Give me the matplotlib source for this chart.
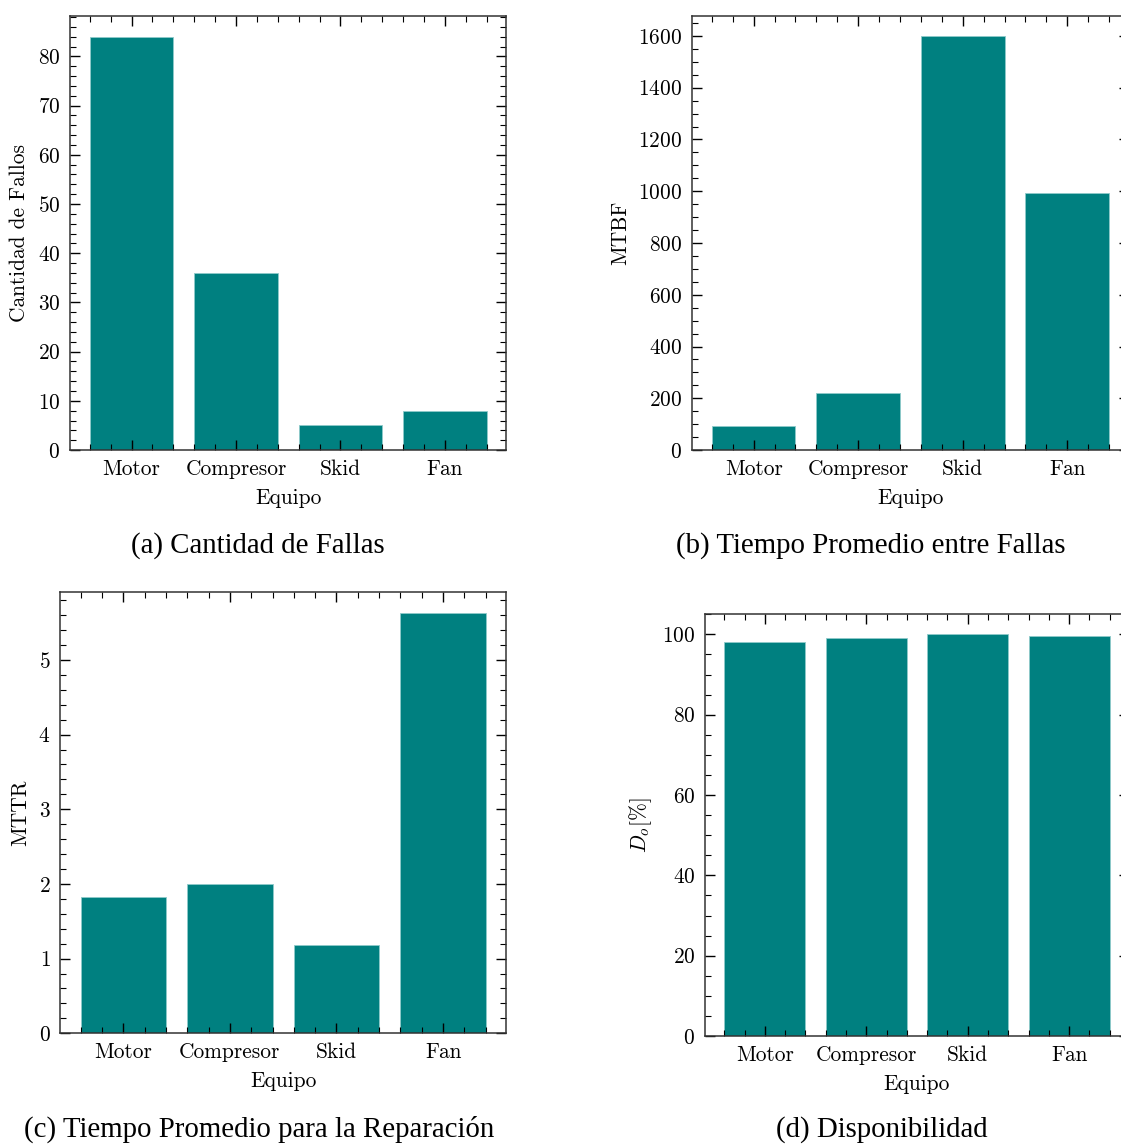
import matplotlib
matplotlib.use("Agg")
import matplotlib.pyplot as plt
from matplotlib.ticker import AutoMinorLocator, MultipleLocator

equipos = ["Motor", "Compresor", "Skid", "Fan"]
fallos = [84, 36, 5, 8]
mtbf = [93, 219, 1598, 994]
mttr = [1.82, 2.0, 1.18, 5.625]
disponibilidad = [98.15, 99.1, 100.0, 99.55]

plt.rcParams.update({
    "font.family": "cmr10",
    "mathtext.fontset": "cm",
    "axes.formatter.use_mathtext": True,
    "font.size": 15.4,
    "axes.linewidth": 1.1,
    "axes.edgecolor": "#333333",
    "xtick.direction": "in",
    "ytick.direction": "in",
    "xtick.top": True,
    "ytick.right": True,
    "xtick.major.size": 7,
    "ytick.major.size": 7,
    "xtick.minor.size": 4,
    "ytick.minor.size": 4,
    "xtick.major.width": 1.0,
    "ytick.major.width": 1.0,
    "xtick.minor.width": 0.8,
    "ytick.minor.width": 0.8,
    "xtick.major.pad": 6.5,
    "ytick.major.pad": 7,
})

fig = plt.figure(figsize=(11.21, 11.44), dpi=100)

# (axes rect, values, y label, caption, caption x, caption baseline y)
paneles = [
    ([0.0624, 0.6066, 0.3894, 0.3794], fallos, "Cantidad de Fallos", "(a) Cantidad de Fallas", 0.230, 0.5165),
    ([0.6173, 0.6066, 0.3898, 0.3796], mtbf, "MTBF", "(b) Tiempo Promedio entre Fallas", 0.777, 0.5165),
    ([0.0538, 0.0968, 0.3976, 0.3855], mttr, "MTTR", "(c) Tiempo Promedio para la Reparación", 0.231, 0.0065),
    ([0.6289, 0.0944, 0.3782, 0.3686], disponibilidad, r"$D_o[\%]$", "(d) Disponibilidad", 0.787, 0.0065),
]

for pos, valores, ylabel, caption, cx, cy in paneles:
    ax = fig.add_axes(pos)
    ax.bar(equipos, valores, width=0.8, color="#008080", edgecolor="#8fcaca", linewidth=0.6)
    ax.set_xlabel("Equipo", labelpad=7)
    ax.set_ylabel(ylabel, labelpad=6)
    ax.xaxis.set_minor_locator(MultipleLocator(0.2))
    ax.yaxis.set_minor_locator(AutoMinorLocator())
    ax.tick_params(which="both", top=True, right=True)

    fig.text(cx, cy, caption, family="Liberation Serif", fontsize=20.8,
             ha="center", va="baseline")

fig.savefig("out.png", dpi=100)
